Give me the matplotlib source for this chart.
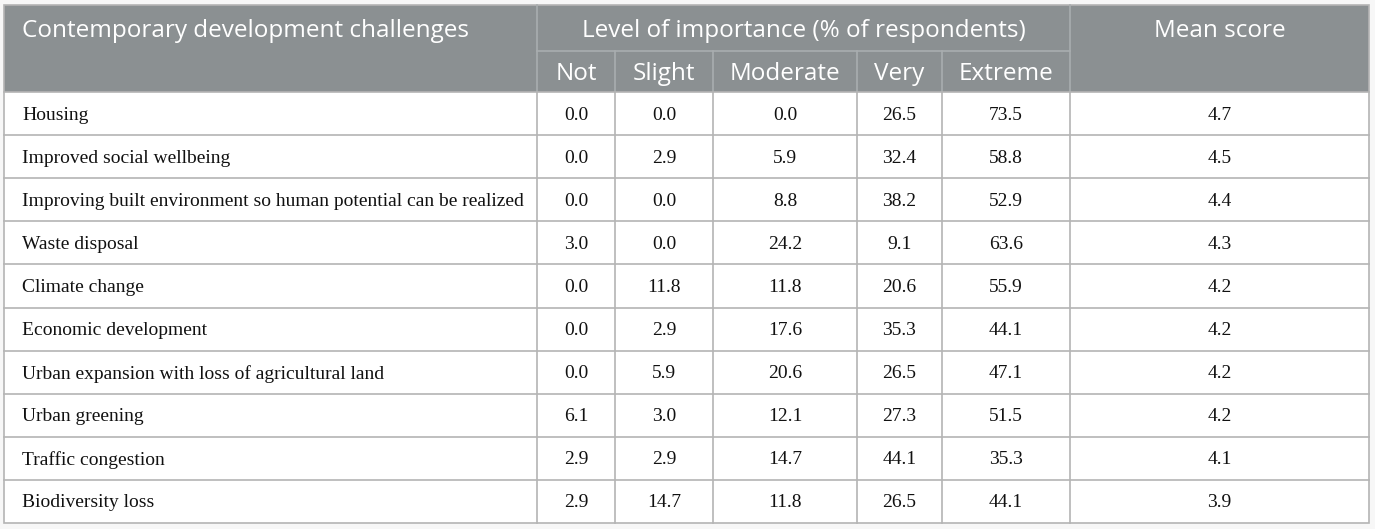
import matplotlib
matplotlib.use('Agg')
import matplotlib.pyplot as plt
from matplotlib.patches import Rectangle

challenges = ['Housing', 'Improved social wellbeing',
              'Improving built environment so human potential can be realized',
              'Waste disposal', 'Climate change', 'Economic development',
              'Urban expansion with loss of agricultural land', 'Urban greening',
              'Traffic congestion', 'Biodiversity loss']
not_imp = [0.0, 0.0, 0.0, 3.0, 0.0, 0.0, 0.0, 6.1, 2.9, 2.9]
slight = [0.0, 2.9, 0.0, 0.0, 11.8, 2.9, 5.9, 3.0, 2.9, 14.7]
moderate = [0.0, 5.9, 8.8, 24.2, 11.8, 17.6, 20.6, 12.1, 14.7, 11.8]
very = [26.5, 32.4, 38.2, 9.1, 20.6, 35.3, 26.5, 27.3, 44.1, 26.5]
extreme = [73.5, 58.8, 52.9, 63.6, 55.9, 44.1, 47.1, 51.5, 35.3, 44.1]
mean_score = [4.7, 4.5, 4.4, 4.3, 4.2, 4.2, 4.2, 4.2, 4.1, 3.9]

level_labels = ['Not', 'Slight', 'Moderate', 'Very', 'Extreme']
header_first = 'Contemporary development challenges'
header_group = 'Level of importance (% of respondents)'
header_mean = 'Mean score'

# layout in pixels
W, H = 1375, 529
col_x = [4, 537, 615, 713, 857, 942, 1070, 1369]
top, mid, hbot, bottom = 5, 51, 92, 523
row_h = (bottom - hbot) / len(challenges)

head_bg = '#8b9092'
head_line = '#a9adaf'
body_line = '#b4b4b4'
head_font = 'Open Sans'
body_font = 'Liberation Serif'
hfs = 17.5
bfs = 14

fig = plt.figure(figsize=(W / 100, H / 100), dpi=100)
fig.patch.set_facecolor('#f7f7f7')
ax = fig.add_axes([0, 0, 1, 1])
ax.set_xlim(0, W)
ax.set_ylim(H, 0)
ax.axis('off')

# header background
ax.add_patch(Rectangle((col_x[0], top), col_x[-1] - col_x[0], hbot - top,
                       facecolor=head_bg, edgecolor='none'))
# body background
ax.add_patch(Rectangle((col_x[0], hbot), col_x[-1] - col_x[0], bottom - hbot,
                       facecolor='white', edgecolor='none'))

# header lines
ax.plot([col_x[1], col_x[1]], [top, hbot], color=head_line, lw=1.2)
ax.plot([col_x[6], col_x[6]], [top, hbot], color=head_line, lw=1.2)
ax.plot([col_x[1], col_x[6]], [mid, mid], color=head_line, lw=1.2)
for x in col_x[2:6]:
    ax.plot([x, x], [mid, hbot], color=head_line, lw=1.2)

# header text
y1 = (top + mid) / 2 + 3
y2 = (mid + hbot) / 2 + 2
ax.text(22, y1, header_first, color='white', fontsize=hfs,
        family=head_font, ha='left', va='center')
ax.text((col_x[1] + col_x[6]) / 2, y1, header_group, color='white',
        fontsize=hfs, family=head_font, ha='center', va='center')
ax.text((col_x[6] + col_x[7]) / 2, y1, header_mean, color='white',
        fontsize=hfs, family=head_font, ha='center', va='center')
for i, lab in enumerate(level_labels):
    ax.text((col_x[i + 1] + col_x[i + 2]) / 2, y2, lab, color='white',
            fontsize=hfs, family=head_font, ha='center', va='center')

# body
columns = [not_imp, slight, moderate, very, extreme, mean_score]
for r, name in enumerate(challenges):
    yc = hbot + (r + 0.5) * row_h + 1.5
    ax.text(22, yc, name, fontsize=bfs, family=body_font, ha='left', va='center',
            color='#111111')
    for c, vals in enumerate(columns):
        ax.text((col_x[c + 1] + col_x[c + 2]) / 2, yc, '{:.1f}'.format(vals[r]),
                fontsize=bfs, family=body_font, ha='center', va='center', color='#111111')

# body grid
for r in range(1, len(challenges)):
    y = hbot + r * row_h
    ax.plot([col_x[0], col_x[-1]], [y, y], color=body_line, lw=1.2)
for x in col_x[1:-1]:
    ax.plot([x, x], [hbot, bottom], color=body_line, lw=1.2)
# outer border
ax.add_patch(Rectangle((col_x[0], top), col_x[-1] - col_x[0], bottom - top,
                       facecolor='none', edgecolor=body_line, lw=1.2))
ax.plot([col_x[0], col_x[-1]], [hbot, hbot], color=body_line, lw=1.2)

plt.savefig('out.png', dpi=100, facecolor=fig.get_facecolor())
